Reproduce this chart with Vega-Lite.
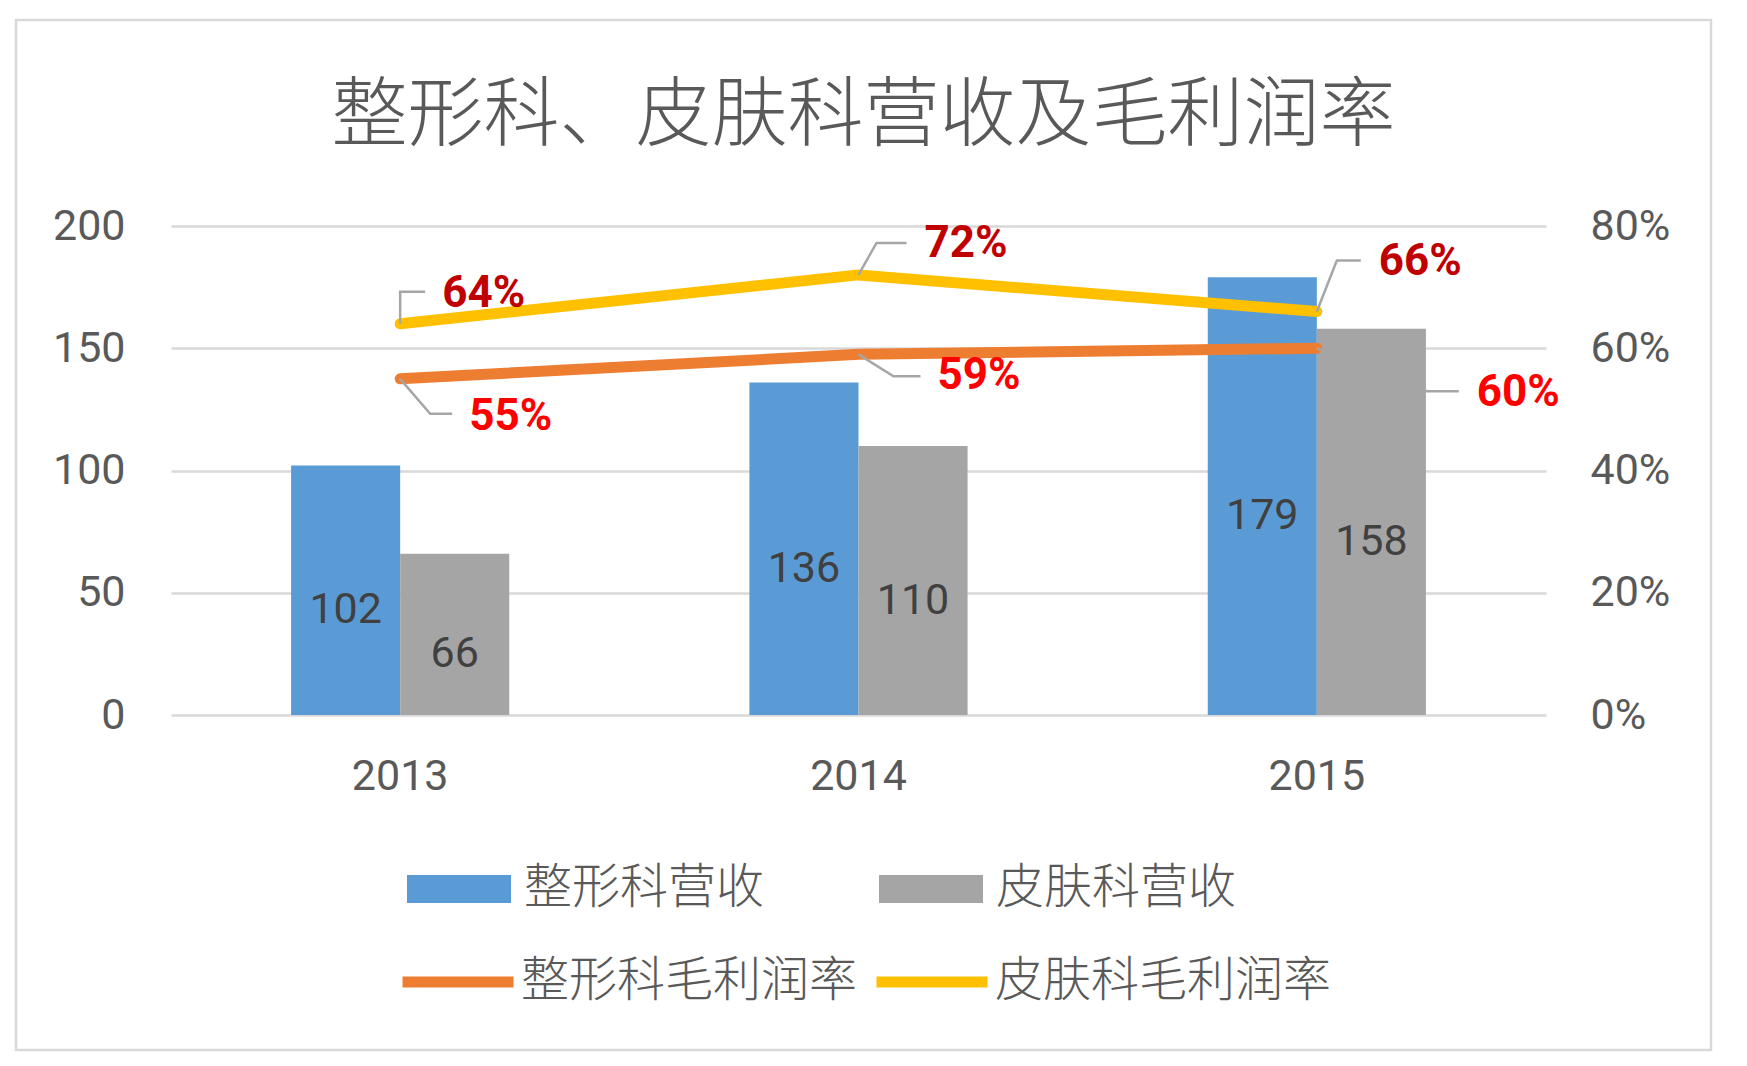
{
  "$schema": "https://vega.github.io/schema/vega-lite/v6.json",
  "width": 1695,
  "height": 1030,
  "autosize": {"type": "none"},
  "padding": {"left": 16, "top": 20, "right": 36, "bottom": 16},
  "background": "white",
  "title": {
    "text": "整形科、皮肤科营收及毛利润率",
    "font": "Noto Sans CJK SC",
    "fontWeight": 300,
    "fontSize": 76,
    "color": "#595959",
    "anchor": "middle",
    "frame": "group",
    "baseline": "bottom",
    "offset": -212
  },
  "config": {
    "font": "Roboto",
    "view": {"stroke": "#D9D9D9", "strokeWidth": 2.5},
    "legend": {
      "labelFont": "Noto Sans CJK SC",
      "labelFontWeight": 300,
      "labelFontSize": 48,
      "labelColor": "#595959",
      "labelLimit": 600,
      "padding": 0
    }
  },
  "datasets": {
    "revenue": [
      {"year": "2013", "dept": "整形科营收", "value": 102},
      {"year": "2013", "dept": "皮肤科营收", "value": 66},
      {"year": "2014", "dept": "整形科营收", "value": 136},
      {"year": "2014", "dept": "皮肤科营收", "value": 110},
      {"year": "2015", "dept": "整形科营收", "value": 179},
      {"year": "2015", "dept": "皮肤科营收", "value": 158}
    ],
    "margin": [
      {"year": "2013", "series": "整形科毛利润率", "rate": 0.55},
      {"year": "2014", "series": "整形科毛利润率", "rate": 0.59},
      {"year": "2015", "series": "整形科毛利润率", "rate": 0.60},
      {"year": "2013", "series": "皮肤科毛利润率", "rate": 0.64},
      {"year": "2014", "series": "皮肤科毛利润率", "rate": 0.72},
      {"year": "2015", "series": "皮肤科毛利润率", "rate": 0.66}
    ]
  },
  "encoding": {
    "x": {
      "field": "year",
      "type": "nominal",
      "scale": {"range": [155, 1530], "paddingInner": 0.524, "paddingOuter": 0.262},
      "axis": {
        "orient": "bottom",
        "offset": -335,
        "title": null,
        "domain": false,
        "ticks": false,
        "grid": false,
        "labelAngle": 0,
        "labelPadding": 40,
        "labelFontSize": 43,
        "labelColor": "#595959"
      }
    }
  },
  "layer": [
    {
      "data": {"name": "revenue"},
      "encoding": {
        "y": {
          "field": "value",
          "type": "quantitative",
          "scale": {"domain": [0, 200], "range": [695, 206], "nice": false},
          "axis": {
            "orient": "left",
            "offset": -155,
            "title": null,
            "values": [0, 50, 100, 150, 200],
            "domain": false,
            "ticks": false,
            "grid": true,
            "gridColor": "#D9D9D9",
            "gridWidth": 2.5,
            "labelPadding": 46,
            "labelFontSize": 43,
            "labelColor": "#595959"
          }
        }
      },
      "layer": [
        {
          "mark": {"type": "bar"},
          "encoding": {
            "xOffset": {"field": "dept", "type": "nominal", "sort": ["整形科营收", "皮肤科营收"]},
            "color": {
              "field": "dept",
              "type": "nominal",
              "scale": {"domain": ["整形科营收", "皮肤科营收"], "range": ["#5B9BD5", "#A5A5A5"]},
              "legend": {
                "orient": "none",
                "legendX": 391,
                "legendY": 817,
                "direction": "horizontal",
                "title": null,
                "symbolType": "M-1,-0.27H1V0.27H-1Z",
                "symbolSize": 10816,
                "symbolStrokeWidth": 0,
                "labelOffset": 13,
                "columnPadding": 114
              }
            }
          }
        },
        {
          "transform": [{"calculate": "datum.value / 2", "as": "mid"}],
          "mark": {"type": "text", "fontSize": 43, "color": "#404040", "dy": 20},
          "encoding": {
            "xOffset": {"field": "dept", "type": "nominal", "sort": ["整形科营收", "皮肤科营收"]},
            "y": {"field": "mid", "type": "quantitative", "title": null},
            "text": {"field": "value", "type": "quantitative"}
          }
        }
      ]
    },
    {
      "data": {"name": "margin"},
      "encoding": {
        "y": {
          "field": "rate",
          "type": "quantitative",
          "scale": {"domain": [0, 0.8], "range": [695, 206], "nice": false},
          "axis": {
            "orient": "right",
            "offset": -165,
            "title": null,
            "values": [0, 0.2, 0.4, 0.6, 0.8],
            "format": ".0%",
            "domain": false,
            "ticks": false,
            "grid": false,
            "labelPadding": 44,
            "labelFontSize": 43,
            "labelColor": "#595959"
          }
        }
      },
      "layer": [
        {
          "mark": {"type": "line", "strokeWidth": 11, "strokeCap": "round", "strokeJoin": "round"},
          "encoding": {
            "stroke": {
              "field": "series",
              "type": "nominal",
              "scale": {"domain": ["整形科毛利润率", "皮肤科毛利润率"], "range": ["#ED7D31", "#FFC000"]},
              "legend": {
                "orient": "none",
                "legendX": 381,
                "legendY": 901,
                "direction": "horizontal",
                "title": null,
                "symbolType": "stroke",
                "symbolSize": 12321,
                "symbolStrokeWidth": 11,
                "labelOffset": 2,
                "columnPadding": -4
              }
            }
          }
        },
        {
          "transform": [{"filter": "datum.year == '2013' && datum.series == '皮肤科毛利润率'"}],
          "layer": [
            {"mark": {"type": "point", "shape": "M0,0V-32H25", "size": 4, "filled": false, "opacity": 1, "stroke": "#A6A6A6", "strokeWidth": 2.5}},
            {"mark": {"type": "text", "align": "left", "baseline": "middle", "dx": 42, "dy": -30, "fontSize": 44, "fontWeight": "bold", "color": "#C00000"},
             "encoding": {"text": {"field": "rate", "type": "quantitative", "format": ".0%"}}}
          ]
        },
        {
          "transform": [{"filter": "datum.year == '2014' && datum.series == '皮肤科毛利润率'"}],
          "layer": [
            {"mark": {"type": "point", "shape": "M0,0L18,-32H48", "size": 4, "filled": false, "opacity": 1, "stroke": "#A6A6A6", "strokeWidth": 2.5}},
            {"mark": {"type": "text", "align": "left", "baseline": "middle", "dx": 66, "dy": -31, "fontSize": 44, "fontWeight": "bold", "color": "#C00000"},
             "encoding": {"text": {"field": "rate", "type": "quantitative", "format": ".0%"}}}
          ]
        },
        {
          "transform": [{"filter": "datum.year == '2015' && datum.series == '皮肤科毛利润率'"}],
          "layer": [
            {"mark": {"type": "point", "shape": "M0,0L20,-51H44", "size": 4, "filled": false, "opacity": 1, "stroke": "#A6A6A6", "strokeWidth": 2.5}},
            {"mark": {"type": "text", "align": "left", "baseline": "middle", "dx": 62, "dy": -50, "fontSize": 44, "fontWeight": "bold", "color": "#C00000"},
             "encoding": {"text": {"field": "rate", "type": "quantitative", "format": ".0%"}}}
          ]
        },
        {
          "transform": [{"filter": "datum.year == '2013' && datum.series == '整形科毛利润率'"}],
          "layer": [
            {"mark": {"type": "point", "shape": "M0,0L30,35H52", "size": 4, "filled": false, "opacity": 1, "stroke": "#A6A6A6", "strokeWidth": 2.5}},
            {"mark": {"type": "text", "align": "left", "baseline": "middle", "dx": 69, "dy": 38, "fontSize": 44, "fontWeight": "bold", "color": "#FF0000"},
             "encoding": {"text": {"field": "rate", "type": "quantitative", "format": ".0%"}}}
          ]
        },
        {
          "transform": [{"filter": "datum.year == '2014' && datum.series == '整形科毛利润率'"}],
          "layer": [
            {"mark": {"type": "point", "shape": "M0,0L35,22H62", "size": 4, "filled": false, "opacity": 1, "stroke": "#A6A6A6", "strokeWidth": 2.5}},
            {"mark": {"type": "text", "align": "left", "baseline": "middle", "dx": 79, "dy": 22, "fontSize": 44, "fontWeight": "bold", "color": "#FF0000"},
             "encoding": {"text": {"field": "rate", "type": "quantitative", "format": ".0%"}}}
          ]
        },
        {
          "transform": [{"filter": "datum.year == '2015' && datum.series == '整形科毛利润率'"}],
          "layer": [
            {"mark": {"type": "point", "shape": "M0,0L110,43H142", "size": 4, "filled": false, "opacity": 1, "stroke": "#A6A6A6", "strokeWidth": 2.5}},
            {"mark": {"type": "text", "align": "left", "baseline": "middle", "dx": 160, "dy": 45, "fontSize": 44, "fontWeight": "bold", "color": "#FF0000"},
             "encoding": {"text": {"field": "rate", "type": "quantitative", "format": ".0%"}}}
          ]
        }
      ]
    }
  ],
  "resolve": {"scale": {"y": "independent"}}
}
